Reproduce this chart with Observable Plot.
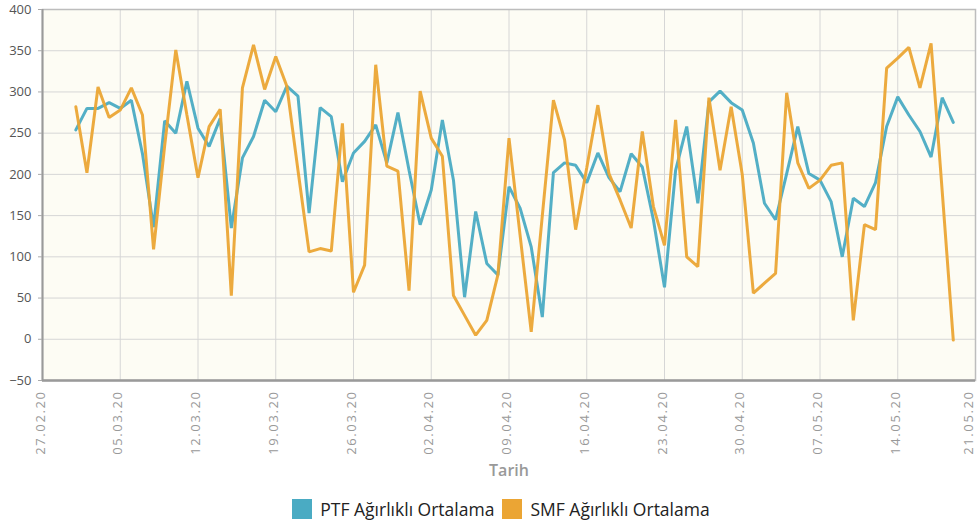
<!DOCTYPE html>
<html>
<head>
<meta charset="utf-8">
<script src="https://cdn.jsdelivr.net/npm/d3@7"></script>
<script src="https://cdn.jsdelivr.net/npm/@observablehq/plot@0.6"></script>
<style>
  body { margin: 0; background: #fff; }
  #legend { display: flex; justify-content: center; align-items: center; gap: 8px;
    font-family: "Open Sans", sans-serif; font-size: 17.5px; color: #222; margin-top: 8px; margin-left: 24px; line-height: 22px; }
  #legend .item { display: flex; align-items: center; gap: 8px; }
  #legend .sw { width: 20px; height: 20px; display: inline-block; }
  g[aria-label="x-axis tick label"] text { letter-spacing: 1.6px; }
</style>
</head>
<body>
<div id="chart"></div>
<div id="legend"></div>
<script>
// Series: daily values from 01.03.20 to 19.05.20
const startDate = "2020-03-01";
const ptf = [254,280,280,287,280,290,225,136,265,250,313,256,234,268,135,220,246,290,276,307,295,153,281,270,191,226,240,260,214,275,205,
             139,181,266,193,51,155,92,78,185,159,112,27,202,214,211,190,226,196,179,225,209,145,63,205,258,165,288,301,287,278,
             238,165,145,201,258,201,193,167,100,171,161,190,258,294,272,252,221,293,263];
const smf = [282,202,306,269,278,305,272,109,235,351,272,196,258,279,53,305,357,303,343,307,205,106,110,107,262,57,90,333,210,204,59,
             301,244,222,53,29,5,23,78,244,126,9,150,290,242,133,208,284,201,169,135,252,161,114,266,100,88,293,205,282,200,
             56,68,80,299,214,183,193,211,214,23,139,133,329,341,354,305,359,180,-1];
const seriesNames = ["PTF Ağırlıklı Ortalama", "SMF Ağırlıklı Ortalama"];
const seriesColors = ["#4aabc3", "#eba534"];
const xTickLabels = ["27.02.20","05.03.20","12.03.20","19.03.20","26.03.20","02.04.20","09.04.20","16.04.20","23.04.20","30.04.20","07.05.20","14.05.20","21.05.20"];
const yTicks = [-50,0,50,100,150,200,250,300,350,400];
const xLabel = "Tarih";

const parseTick = d3.utcParse("%d.%m.%y");
const xTicks = xTickLabels.map(parseTick);
const start = d3.utcParse("%Y-%m-%d")(startDate);
const rows = [];
ptf.forEach((v, i) => rows.push({date: d3.utcDay.offset(start, i), value: v, series: seriesNames[0]}));
smf.forEach((v, i) => rows.push({date: d3.utcDay.offset(start, i), value: v, series: seriesNames[1]}));

const xAxisOpts = {tickFormat: d3.utcFormat("%d.%m.%y"), tickRotate: -90, tickSize: 0, tickPadding: 10,
                   fontSize: 13, fill: "#999", label: null};

const chart = Plot.plot({
  width: 978,
  height: 490,
  marginTop: 9,
  marginBottom: 110,
  marginLeft: 42,
  marginRight: 3,
  style: {fontFamily: "'Open Sans', sans-serif", background: "#fff"},
  x: {type: "utc", domain: [xTicks[0], xTicks[xTicks.length - 1]]},
  y: {domain: [-50, 400]},
  color: {domain: seriesNames, range: seriesColors},
  marks: [
    Plot.frame({fill: "#fdfcf4", stroke: null}),
    Plot.gridX({ticks: xTicks, stroke: "#d6d6d6", strokeOpacity: 1}),
    Plot.gridY({ticks: yTicks, stroke: "#d6d6d6", strokeOpacity: 1}),
    Plot.frame({stroke: "#bdbdbd", strokeWidth: 1.5}),
    Plot.ruleX([xTicks[0]], {stroke: "#9a9a9a", strokeWidth: 2}),
    Plot.ruleY([-50], {stroke: "#9a9a9a", strokeWidth: 2.5}),
    Plot.axisY({ticks: yTicks, tickSize: 4, stroke: "#aaa", tickPadding: 7, fontSize: 13, fill: "#555", label: null}),
    Plot.axisX({...xAxisOpts, ticks: xTicks.slice(0, -1), dx: -2}),
    Plot.axisX({...xAxisOpts, ticks: xTicks.slice(-1), dx: -7}),
    Plot.text([xLabel], {frameAnchor: "bottom", dy: 95, fontSize: 16, fontWeight: 600, fill: "#999"}),
    Plot.lineY(rows, {x: "date", y: "value", z: "series", stroke: "series", strokeWidth: 3, strokeLinejoin: "miter", strokeOpacity: 0.95})
  ]
});
document.getElementById("chart").appendChild(chart);

const legend = document.getElementById("legend");
seriesNames.forEach((name, i) => {
  const item = document.createElement("span");
  item.className = "item";
  const sw = document.createElement("span");
  sw.className = "sw";
  sw.style.background = seriesColors[i];
  item.appendChild(sw);
  item.appendChild(document.createTextNode(name));
  legend.appendChild(item);
});
</script>
</body>
</html>
